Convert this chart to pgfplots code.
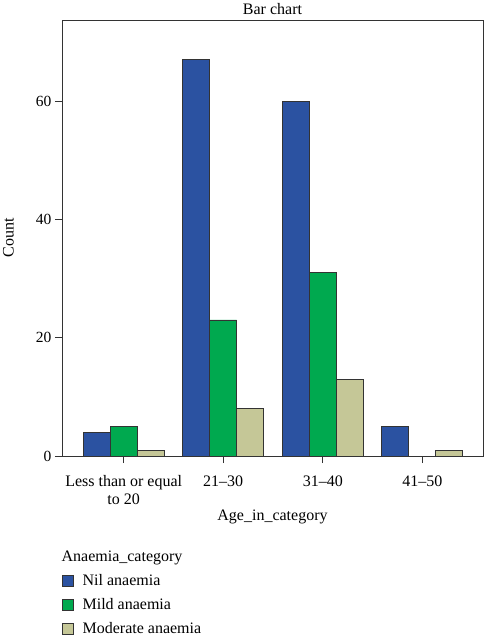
\documentclass[border=0pt]{standalone}
\usepackage{pgfplots}
\pgfplotsset{compat=1.18}
\usepackage{fontspec}
\setmainfont{Liberation Serif}
\definecolor{cnil}{HTML}{2B52A1}
\definecolor{cmild}{HTML}{00A94F}
\definecolor{cmod}{HTML}{C5C797}
\definecolor{edge}{HTML}{333333}
\begin{document}
\begin{tikzpicture}
\useasboundingbox (-62pt,-184pt) rectangle (422pt,456pt);
\begin{axis}[
  at={(0pt,0pt)}, anchor=south west,
  scale only axis,
  width=421pt, height=436pt,
  ybar=0pt, bar width=27pt,
  xmin=-0.62, xmax=3.61,
  ymin=0, ymax=73.7,
  xtick={0,1,2,3},
  xticklabels={{Less than or equal\\to 20},{21--30},{31--40},{41--50}},
  xticklabel style={align=center, font=\fontsize{16}{18}\selectfont, yshift=-9pt},
  ytick={0,20,40,60},
  yticklabel style={font=\fontsize{15.5}{18}\selectfont},
  /pgf/number format/assume math mode=true,
  tick align=outside, xtick pos=lower, ytick pos=left,
  major tick length=7pt,
  tick style={draw=edge, line width=0.8pt},
  axis line style={draw=edge, line width=0.8pt},
  title={Bar chart},
  every axis title shift=0pt,
  title style={font=\fontsize{16}{18}\selectfont, at={(axis description cs:0.5,1)}, anchor=base, yshift=5.5pt},
  xlabel={Age\_in\_category},
  ylabel={Count},
  label style={font=\fontsize{16}{18}\selectfont},
  xlabel style={at={(axis description cs:0.5,0)}, anchor=base, yshift=-64pt},
  ylabel style={at={(axis description cs:0,0.5)}, anchor=center, yshift=53.5pt},
  legend style={
    at={(axis description cs:0,0)}, anchor=north west,
    yshift=-92pt, xshift=0pt,
    draw=none, fill=none, inner sep=0pt, outer sep=0pt,
    font=\fontsize{16}{18}\selectfont,
    row sep=6pt,
    nodes={inner sep=2pt, text height=11pt, text depth=3pt},
    cells={anchor=west},
    /tikz/every odd column/.append style={column sep=7pt},
    /tikz/row 1 column 2/.style={text depth=6pt},
  },
  legend image code/.code={\draw[#1, draw=edge, line width=0.6pt] (0pt,-5.5pt) rectangle (11pt,5.5pt);},
]
\addlegendimage{empty legend}
\addlegendentry{\hspace{-21pt}Anaemia\_category}
\addplot[fill=cnil, draw=edge, line width=0.6pt] coordinates {(0,4) (1,67) (2,60) (3,5)};
\addlegendentry{Nil anaemia}
\addplot[fill=cmild, draw=edge, line width=0.6pt] coordinates {(0,5) (1,23) (2,31)};
\addlegendentry{Mild anaemia}
\addplot[fill=cmod, draw=edge, line width=0.6pt] coordinates {(0,1) (1,8) (2,13) (3,1)};
\addlegendentry{Moderate anaemia}
\end{axis}
\end{tikzpicture}
\end{document}
